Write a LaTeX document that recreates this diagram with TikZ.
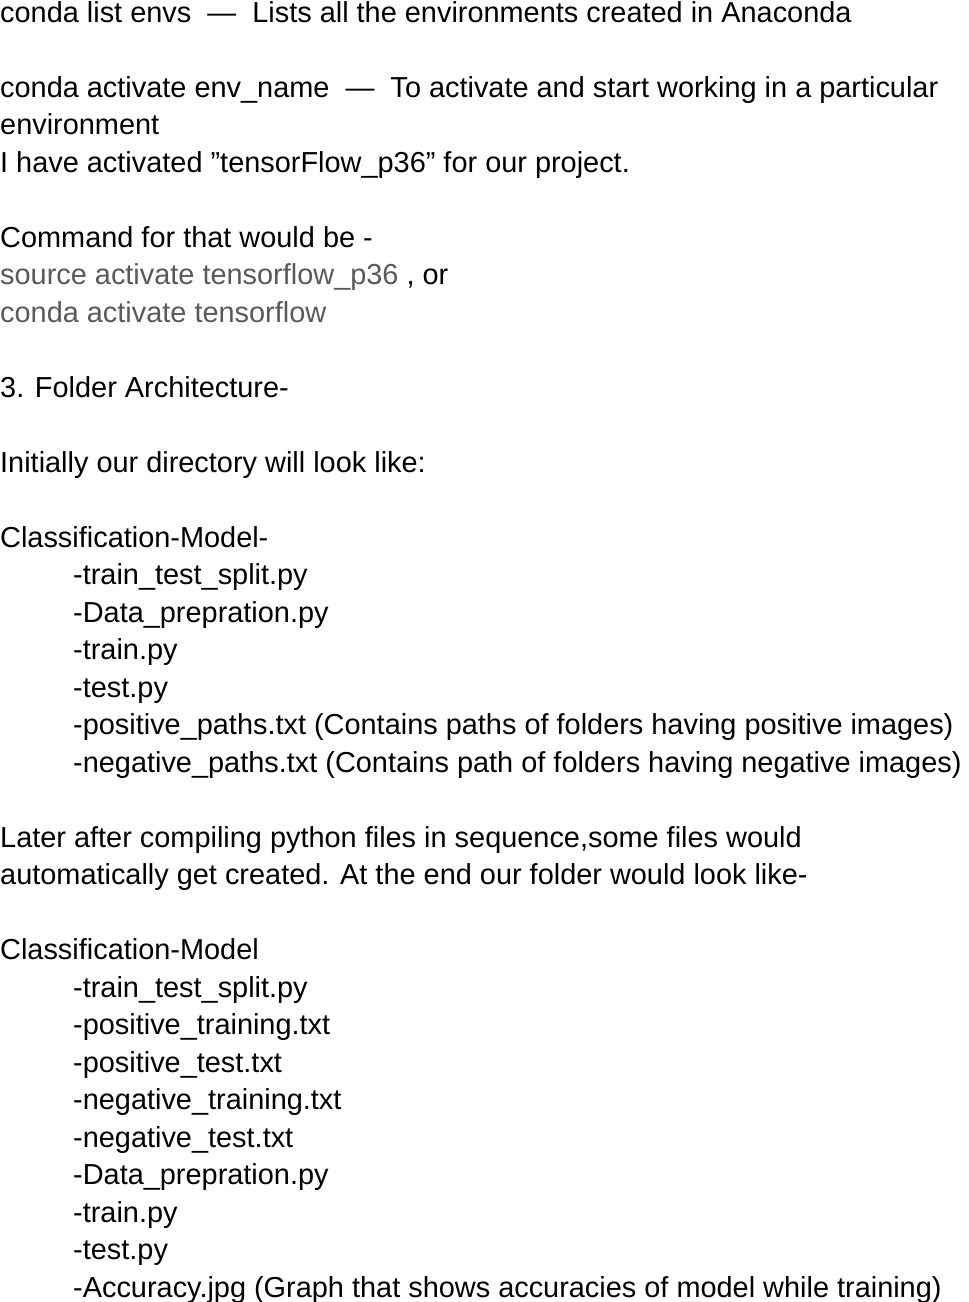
\documentclass[tikz,border=0pt]{standalone}
\usepackage{fontspec}
\setmainfont{Liberation Sans}
\definecolor{cmdgray}{HTML}{595959}
\begin{document}
\begin{tikzpicture}[x=1pt,y=-1pt,
  txt/.style={anchor=base west,inner sep=0pt,font=\fontsize{28.9}{34}\selectfont},
  gr/.style={txt,text=cmdgray}]
\useasboundingbox (0,0) rectangle (969,1302);
\def\L#1{22+37.5*#1}
\node[txt] (l0) at (0,{\L{0}}) {conda list envs~~—~~Lists all the environments created in Anaconda};
\node[txt] (l2) at (0,{\L{2}}) {conda activate env\_name~~—~~To activate and start working in a particular};
\node[txt] (l3) at (0,{\L{3}}) {environment};
\node[txt] (l4) at (0,{\L{4}}) {I have activated "tensorFlow\_p36" for our project.};
\node[txt] (l6) at (0,{\L{6}}) {Command for that would be -};
\node[txt] (l7) at (0,{\L{7}}) {\textcolor{cmdgray}{source activate tensorflow\_p36} , or};
\node[gr] (l8) at (0,{\L{8}}) {conda activate tensorflow};
\node[txt] (l10) at (0,{\L{10}}) {3. Folder Architecture-};
\node[txt] (l12) at (0,{\L{12}}) {Initially our directory will look like:};
\node[txt] (l14) at (0,{\L{14}}) {Classification-Model-};
\node[txt] (l15) at (73,{\L{15}}) {-train\_test\_split.py};
\node[txt] (l16) at (73,{\L{16}}) {-Data\_prepration.py};
\node[txt] (l17) at (73,{\L{17}}) {-train.py};
\node[txt] (l18) at (73,{\L{18}}) {-test.py};
\node[txt] (l19) at (73,{\L{19}}) {-positive\_paths.txt (Contains paths of folders having positive images)};
\node[txt] (l20) at (73,{\L{20}}) {-negative\_paths.txt (Contains path of folders having negative images)};
\node[txt] (l22) at (0,{\L{22}}) {Later after compiling python files in sequence,some files would};
\node[txt] (l23) at (0,{\L{23}}) {automatically get created. At the end our folder would look like-};
\node[txt] (l25) at (0,{\L{25}}) {Classification-Model};
\node[txt] (l26) at (73,{\L{26}}) {-train\_test\_split.py};
\node[txt] (l27) at (73,{\L{27}}) {-positive\_training.txt};
\node[txt] (l28) at (73,{\L{28}}) {-positive\_test.txt};
\node[txt] (l29) at (73,{\L{29}}) {-negative\_training.txt};
\node[txt] (l30) at (73,{\L{30}}) {-negative\_test.txt};
\node[txt] (l31) at (73,{\L{31}}) {-Data\_prepration.py};
\node[txt] (l32) at (73,{\L{32}}) {-train.py};
\node[txt] (l33) at (73,{\L{33}}) {-test.py};
\node[txt] (l34) at (73,{\L{34}}) {-Accuracy.jpg (Graph that shows accuracies of model while training)};
\end{tikzpicture}
\end{document}
